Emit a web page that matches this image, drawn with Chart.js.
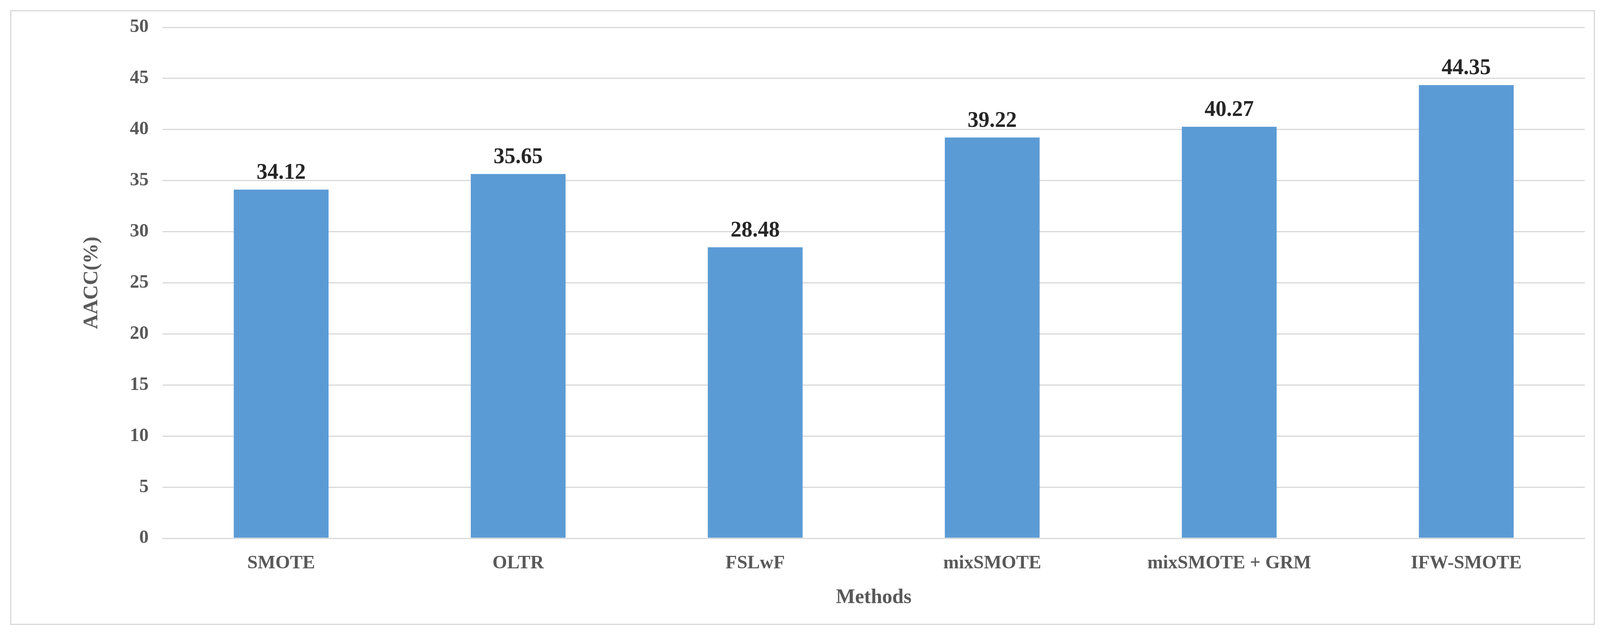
<!DOCTYPE html>
<html><head><meta charset="utf-8">
<script src="https://cdn.jsdelivr.net/npm/chart.js@4"></script>
<style>
html,body{margin:0;padding:0;background:#fff;overflow:hidden;}
#frame{position:absolute;left:26px;top:26px;width:4057px;height:1575px;border:3px solid #d9d9d9;box-sizing:border-box;}
#c{position:absolute;left:0;top:0;}
</style></head>
<body>
<div id="frame"></div>
<canvas id="c" width="4119" height="1637"></canvas>
<script>
// Data
const methods = ['SMOTE','OLTR','FSLwF','mixSMOTE','mixSMOTE + GRM','IFW-SMOTE'];
const aacc = [34.12, 35.65, 28.48, 39.22, 40.27, 44.35];

const FONT = '"Liberation Serif", "Times New Roman", serif';

// Value labels above bars
const valueLabels = {
  id:'valueLabels',
  afterDatasetsDraw(ch){
    const ctx = ch.ctx, meta = ch.getDatasetMeta(0);
    ctx.save();
    ctx.font = 'bold 56px '+FONT;
    ctx.fillStyle = '#262626';
    ctx.textAlign = 'center';
    ctx.textBaseline = 'bottom';
    meta.data.forEach((b,i)=> ctx.fillText(aacc[i].toFixed(2), b.x, b.y-14));
    ctx.restore();
  }
};

new Chart(document.getElementById('c'), {
  type:'bar',
  data:{ labels:methods, datasets:[{ data:aacc, backgroundColor:'#5b9bd5', categoryPercentage:1, barPercentage:0.4 }] },
  options:{
    responsive:false, animation:false, devicePixelRatio:1,
    layout:{ padding:{ left:200, right:62, top:70, bottom:70 } },
    plugins:{ legend:{display:false}, tooltip:{enabled:false} },
    scales:{
      x:{
        grid:{ display:false },
        border:{ color:'#d9d9d9', width:3 },
        ticks:{ color:'#595959', font:{ family:FONT, size:48, weight:'bold' }, padding:28, maxRotation:0 },
        title:{ display:true, text:'Methods', color:'#595959', font:{ family:FONT, size:52, weight:'bold' }, padding:{top:0} }
      },
      y:{
        min:0, max:50,
        grid:{ color:'#d9d9d9', lineWidth:3, drawTicks:false },
        border:{ display:false },
        ticks:{ stepSize:5, color:'#595959', font:{ family:FONT, size:48, weight:'bold' }, padding:36 },
        title:{ display:true, text:'AACC(%)', color:'#595959', font:{ family:FONT, size:52, weight:'bold' }, padding:{bottom:30} }
      }
    }
  },
  plugins:[valueLabels]
});
</script>
</body></html>
